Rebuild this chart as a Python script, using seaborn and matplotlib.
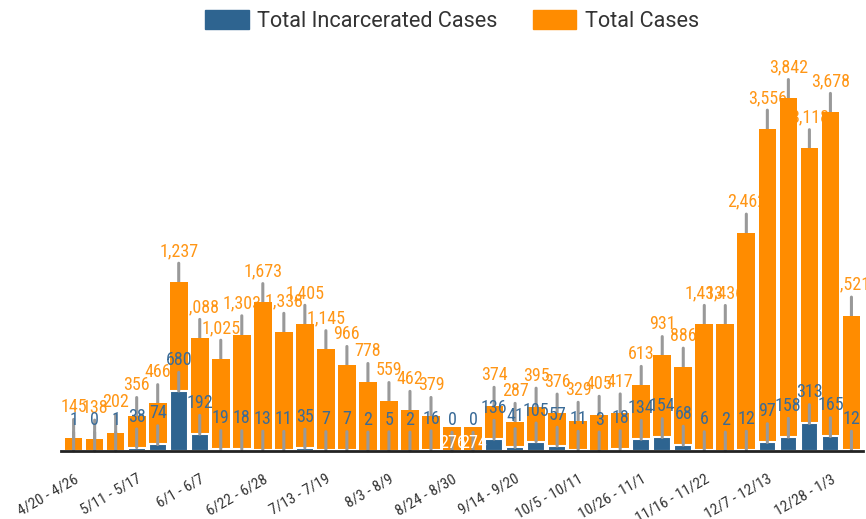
import matplotlib
matplotlib.use("Agg")
import matplotlib.pyplot as plt
from matplotlib.patches import Patch
import matplotlib.transforms as mtransforms
import seaborn as sns

# ---------------------------------------------------------
# Weekly case counts
# ---------------------------------------------------------
weeks = [
    "4/20 - 4/26", "4/27 - 5/3", "5/4 - 5/10", "5/11 - 5/17", "5/18 - 5/24",
    "5/25 - 5/31", "6/1 - 6/7", "6/8 - 6/14", "6/15 - 6/21", "6/22 - 6/28",
    "6/29 - 7/5", "7/6 - 7/12", "7/13 - 7/19", "7/20 - 7/26", "7/27 - 8/2",
    "8/3 - 8/9", "8/10 - 8/16", "8/17 - 8/23", "8/24 - 8/30", "8/31 - 9/6",
    "9/7 - 9/13", "9/14 - 9/20", "9/21 - 9/27", "9/28 - 10/4", "10/5 - 10/11",
    "10/12 - 10/18", "10/19 - 10/25", "10/26 - 11/1", "11/2 - 11/8",
    "11/9 - 11/15", "11/16 - 11/22", "11/23 - 11/29", "11/30 - 12/6",
    "12/7 - 12/13", "12/14 - 12/20", "12/21 - 12/27", "12/28 - 1/3",
    "1/4 - 1/10",
]
total_cases = [
    145, 138, 202, 356, 466, 1237, 1088, 1025, 1303, 1673,
    1338, 1405, 1145, 966, 778, 559, 462, 379, 276, 274,
    374, 287, 395, 376, 329, 405, 417, 613, 931, 886,
    1433, 1436, 2462, 3556, 3842, 3118, 3678, 1521,
]
incarcerated = [
    1, 0, 1, 38, 74, 680, 192, 19, 18, 13,
    11, 35, 7, 7, 2, 5, 2, 16, 0, 0,
    136, 41, 105, 57, 11, 3, 18, 134, 154, 68,
    6, 2, 12, 97, 158, 313, 165, 12,
]
# labels drawn inside the bar in white
inside_labels = ["8/24 - 8/30", "8/31 - 9/6"]

ORANGE = "#FF8C00"
BLUE = "#2E6490"
GREY = "#999999"

stack_top = [i + t for i, t in zip(incarcerated, total_cases)]

sns.set_style("white")
plt.rcParams["font.family"] = ["Roboto Condensed", "Liberation Sans Narrow", "Roboto"]

fig = plt.figure(figsize=(8.66, 5.19), dpi=100)
ax = fig.add_axes([61 / 866, 1 - 451 / 519, 802 / 866, 388 / 519])

sns.barplot(x=weeks, y=stack_top, color=ORANGE, saturation=1, width=0.84,
            linewidth=0, ax=ax, zorder=1)
sns.barplot(x=weeks, y=incarcerated, color=BLUE, saturation=1, width=0.84,
            edgecolor="white", linewidth=1.5, ax=ax, zorder=1.2)

line_kw = dict(arrowstyle="-", color=GREY, lw=2.2, shrinkA=0, shrinkB=0)
lift = mtransforms.ScaledTranslation(0, 3 / 100, fig.dpi_scale_trans)
for k, w in enumerate(weeks):
    if w in inside_labels:
        ax.text(k, 0, f"{total_cases[k]:,}", color="white", fontsize=13,
                ha="center", va="baseline", zorder=4,
                transform=ax.transData + lift)
    else:
        ax.annotate(f"{total_cases[k]:,}", xy=(k, stack_top[k]), xytext=(0, 26),
                    textcoords="offset pixels", ha="center", va="baseline",
                    color="#FF9616", fontsize=13, zorder=0.5,
                    arrowprops=line_kw, annotation_clip=False)
    ax.annotate(f"{incarcerated[k]:,}", xy=(k, incarcerated[k]), xytext=(0, 26),
                textcoords="offset pixels", ha="center", va="baseline",
                color="#3A6B97", fontsize=13, zorder=3,
                arrowprops=line_kw, annotation_clip=False)

ax.set_xlim(-0.6, 37.55)
ax.set_ylim(0, 4400)
ax.set_yticks([])
ax.set_ylabel("")
ax.set_xlabel("")
ax.set_xticks(range(0, len(weeks), 3))
ax.set_xticklabels(weeks[::3], rotation=30, ha="right", rotation_mode="anchor",
                   va="top", fontsize=11, color="#333333")
ax.tick_params(axis="x", length=0, pad=15)
for s in ["left", "top", "right"]:
    ax.spines[s].set_visible(False)
ax.spines["bottom"].set_color("#222222")
ax.spines["bottom"].set_linewidth(2)
ax.spines["bottom"].set_zorder(5)

handles = [Patch(color=BLUE), Patch(color=ORANGE)]
fig.legend(handles, ["Total Incarcerated Cases", "Total Cases"], loc="center",
           bbox_to_anchor=(0.522, 0.96), ncol=2, frameon=False,
           prop={"family": "Roboto", "size": 15.6}, labelcolor="#333333",
           handlelength=2.0, handleheight=1.0, handletextpad=0.38,
           columnspacing=1.65)

fig.savefig("out.png", dpi=100)
